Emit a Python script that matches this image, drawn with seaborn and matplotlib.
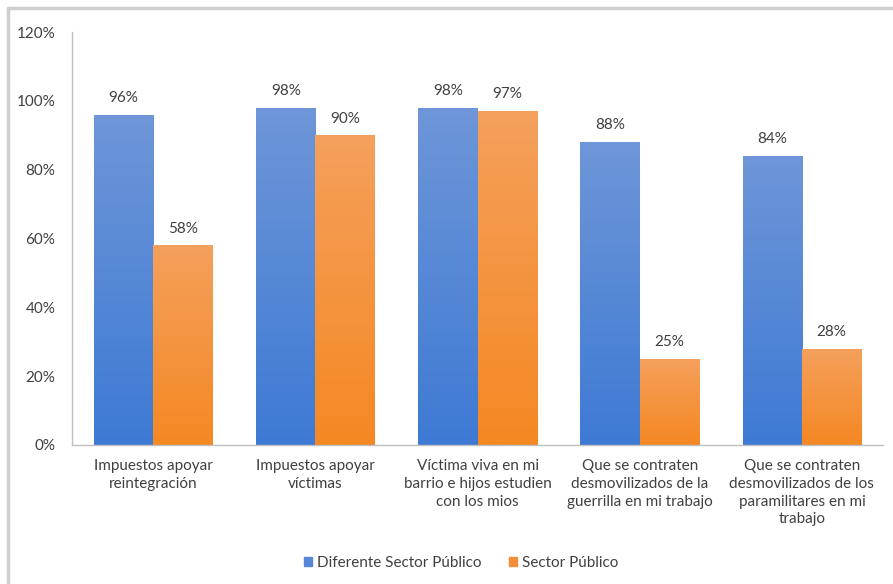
import matplotlib
matplotlib.use("Agg")
import matplotlib.pyplot as plt
import matplotlib.patches as mpatches
import matplotlib.lines as mlines
from matplotlib.colors import to_rgb
import numpy as np
import seaborn as sns
import pandas as pd

categories = [
    "Impuestos apoyar\nreintegración",
    "Impuestos apoyar\nvíctimas",
    "Víctima viva en mi\nbarrio e hijos estudien\ncon los mios",
    "Que se contraten\ndesmovilizados de la\nguerrilla en mi trabajo",
    "Que se contraten\ndesmovilizados de los\nparamilitares en mi\ntrabajo",
]
series_names = ["Diferente Sector Público", "Sector Público"]
diferente = [96, 98, 98, 88, 84]
sector = [58, 90, 97, 25, 28]
y_ticks = [0, 20, 40, 60, 80, 100, 120]

df = pd.DataFrame({
    "cat": categories * 2,
    "serie": [series_names[0]] * 5 + [series_names[1]] * 5,
    "valor": diferente + sector,
})

sns.set_style("white")
plt.rcParams["font.family"] = ["Lato", "DejaVu Sans"]
text_color = "#404040"
fs = 11

fig = plt.figure(figsize=(8.93, 5.84), dpi=100)
ax = fig.add_axes([72 / 893, 1 - 445 / 584, 811 / 893, 413 / 584])

palette = {series_names[0]: "#5587d6", series_names[1]: "#f38f3a"}
# light (top) and dark (bottom) shades for each series' gradient fill
shades = {
    series_names[0]: ("#6e96d8", "#3e7ad4"),
    series_names[1]: ("#f4a05c", "#f58823"),
}
sns.barplot(data=df, x="cat", y="valor", hue="serie", palette=palette,
            width=0.73, gap=0, saturation=1, linewidth=0, ax=ax, legend=False)

for cont, name in zip(ax.containers, series_names):
    top, bottom = (np.array(to_rgb(c)) for c in shades[name])
    for bar in cont:
        x, w, h = bar.get_x(), bar.get_width(), bar.get_height()
        t = np.linspace(0, 1, 64)[:, None]
        grad = (top * (1 - t) + bottom * t)[:, None, :]
        img = ax.imshow(grad, extent=[x, x + w, 0, h], aspect="auto",
                        origin="upper", zorder=bar.get_zorder(), interpolation="bilinear")
        img.set_clip_path(bar)
    ax.bar_label(cont, labels=[f"{v:.0f}%" for v in cont.datavalues],
                 padding=7, fontsize=fs, color=text_color)

ax.set_ylim(0, 120)
ax.set_xlim(-0.5, 4.5)
ax.set_yticks(y_ticks)
ax.set_yticklabels([f"{t}%" for t in y_ticks], fontsize=fs, color=text_color)
ax.tick_params(axis="y", length=0, pad=12)
ax.tick_params(axis="x", length=0, pad=10, labelsize=fs, labelcolor=text_color)
for lbl in ax.get_xticklabels():
    lbl.set_linespacing(1.35)
ax.set_xlabel("")
ax.set_ylabel("")
for s in ["top", "right"]:
    ax.spines[s].set_visible(False)
for s in ["left", "bottom"]:
    ax.spines[s].set_color("#bfbfbf")
    ax.spines[s].set_linewidth(1)

handles = [mpatches.Patch(color=palette[n], label=n) for n in series_names]
fig.legend(handles=handles, loc="center", bbox_to_anchor=(461 / 893, 1 - 563 / 584),
           ncol=2, frameon=False, fontsize=fs, handlelength=0.55, handleheight=0.55,
           handletextpad=0.3, columnspacing=1.8, labelcolor=text_color)

# frame lines along the top and left edges of the figure
frame_kw = dict(transform=fig.transFigure, color="#cfcfcf", linewidth=2.5)
fig.add_artist(mlines.Line2D([8 / 893, 1], [1 - 8 / 584, 1 - 8 / 584], **frame_kw))
fig.add_artist(mlines.Line2D([8 / 893, 8 / 893], [0, 1 - 8 / 584], **frame_kw))

fig.savefig("out.png", dpi=100)
